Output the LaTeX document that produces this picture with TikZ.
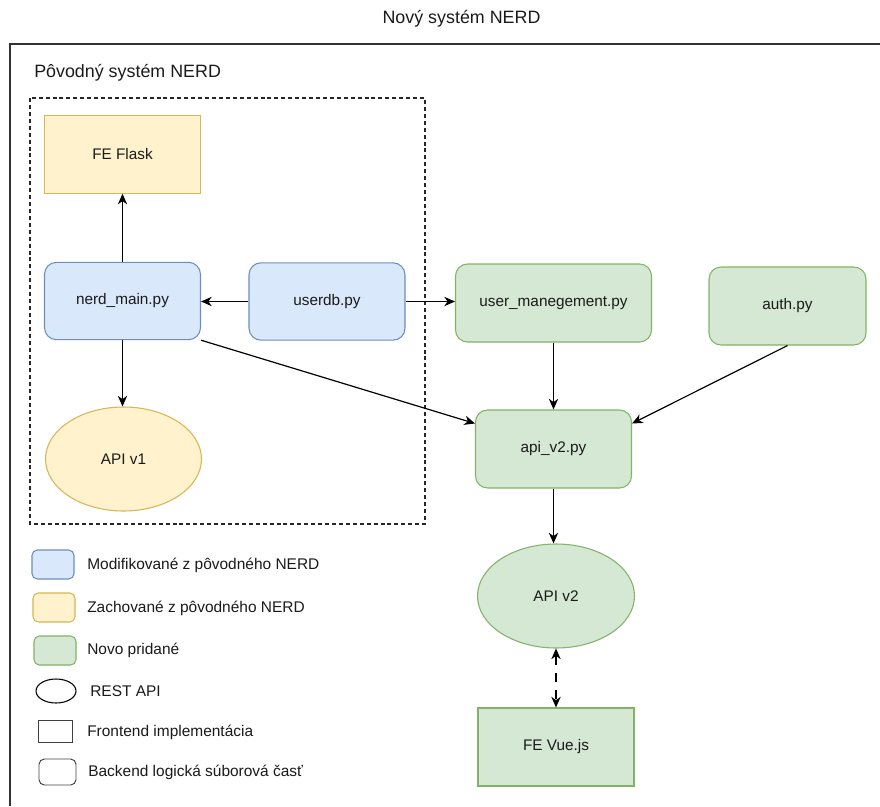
\documentclass[tikz,border=0pt]{standalone}
\usepackage{fontspec}
\setmainfont{Liberation Sans}
\usetikzlibrary{shapes.geometric,arrows.meta}
\definecolor{bluefill}{HTML}{DAE8FC}
\definecolor{bluestroke}{HTML}{6C8EBF}
\definecolor{yelfill}{HTML}{FFF2CC}
\definecolor{yelstroke}{HTML}{D6B656}
\definecolor{grnfill}{HTML}{D5E8D4}
\definecolor{grnstroke}{HTML}{82B366}
\definecolor{txt}{HTML}{1A1A1A}
\begin{document}
\begin{tikzpicture}[x=0.75pt,y=-0.75pt,
  nodefont/.style={font=\fontsize{11.5}{13.5}\selectfont, text=txt},
  bigfont/.style={font=\fontsize{13.4}{15.5}\selectfont, text=txt},
  rbox/.style={draw, rounded corners=9pt, line width=0.8pt, minimum width=117pt, minimum height=58pt, inner sep=0pt, nodefont},
  sbox/.style={draw, line width=0.8pt, minimum width=117pt, minimum height=58pt, inner sep=0pt, nodefont},
  ell/.style={draw, ellipse, line width=0.8pt, minimum width=117pt, minimum height=78pt, inner sep=0pt, nodefont},
  blue/.style={fill=bluefill, draw=bluestroke},
  yel/.style={fill=yelfill, draw=yelstroke},
  grn/.style={fill=grnfill, draw=grnstroke},
  conn/.style={-{Stealth[length=8pt,width=7pt,inset=2.5pt]}, line width=0.9pt},
  legtext/.style={anchor=west, inner sep=0pt, font=\fontsize{11.6}{13.5}\selectfont, text=txt}
]
\useasboundingbox (0,0) rectangle (880,806);
% outer container (cropped on right and bottom)
\draw[line width=1.2pt, draw=black!80] (880,44) -- (10,44) -- (10,806);
\node[bigfont, inner sep=0pt] (title) at (461.5,19) {Nový systém NERD};
\node[bigfont, anchor=west, inner sep=0pt] (subtitle) at (34,73) {Pôvodný systém NERD};
% dashed original-system box
\draw[line width=0.8pt, dash pattern=on 3pt off 2.2pt, draw=black!85] (30,98) rectangle (425,524);

% nodes
\node[sbox, yel] (flask) at (122.5,154.5) {FE Flask};
\node[rbox, blue] (nerd) at (122.5,301) {nerd\_main.py};
\node[rbox, blue] (userdb) at (327,301.5) {userdb.py};
\node[rbox, grn, minimum width=147pt, minimum height=58.5pt] (um) at (553.5,303) {user\_manegement.py};
\node[rbox, grn, minimum width=117.75pt, minimum height=58.5pt] (auth) at (787.5,306) {auth.py};
\node[rbox, grn, minimum height=58.5pt] (api) at (553.5,449) {api\_v2.py};
\node[ell, yel] (apiv1) at (123.5,459) {API v1};
\node[ell, grn, minimum width=117.75pt] (apiv2) at (556,596) {API v2};
\node[sbox, grn, minimum height=58.5pt] (vue) at (556,747) {FE Vue.js};

% connectors
\draw[conn] (nerd.north) -- (nerd.north |- flask.south);
\draw[conn] (userdb.west) -- (userdb.west -| nerd.east);
\draw[conn] (userdb.east) -- (userdb.east -| um.west);
\draw[conn] (nerd.south) -- (nerd.south |- apiv1.north);
\draw[conn] (nerd.south east) -- (api.162);
\draw[conn] (um.south) -- (um.south |- api.north);
\draw[conn] (auth.south) -- (api.18);
\draw[conn] (api.south) -- (api.south |- apiv2.north);
\draw[{Stealth[length=8pt,width=7pt,inset=2.5pt]}-{Stealth[length=8pt,width=7pt,inset=2.5pt]}, line width=0.9pt, dash pattern=on 7pt off 6pt] (apiv2.south) -- (vue.north);

% legend
\node[draw=bluestroke, fill=bluefill, rounded corners=4pt, line width=0.8pt, minimum width=31.5pt, minimum height=21.75pt, inner sep=0pt] (lg1) at (53,564.5) {};
\node[legtext] (lt1) at (87,565) {Modifikované z pôvodného NERD};
\node[draw=yelstroke, fill=yelfill, rounded corners=4pt, line width=0.8pt, minimum width=31.5pt, minimum height=21.75pt, inner sep=0pt] (lg2) at (54,607.5) {};
\node[legtext] (lt2) at (87,608) {Zachované z pôvodného NERD};
\node[draw=grnstroke, fill=grnfill, rounded corners=4pt, line width=0.8pt, minimum width=31.5pt, minimum height=21.75pt, inner sep=0pt] (lg3) at (55,650.5) {};
\node[legtext] (lt3) at (87,650) {Novo pridané};
\node[draw, ellipse, line width=0.8pt, minimum width=30pt, minimum height=18pt, inner sep=0pt] (lg4) at (56,691) {};
\node[legtext] (lt4) at (90,691) {REST API};
\node[draw=black!75, line width=0.7pt, minimum width=25.5pt, minimum height=16.5pt, inner sep=0pt] (lg5) at (55,731) {};
\node[legtext] (lt5) at (87,732) {Frontend implementácia};
\node[draw=black!75, rounded corners=4pt, line width=0.7pt, minimum width=27.75pt, minimum height=19.5pt, inner sep=0pt] (lg6) at (57.5,772) {};
\node[legtext] (lt6) at (88,772) {Backend logická súborová časť};
\end{tikzpicture}
\end{document}
